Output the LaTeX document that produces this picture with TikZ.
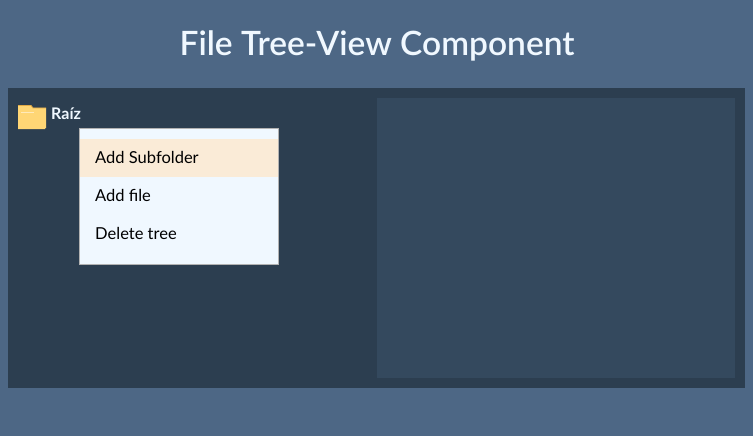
\documentclass[tikz,border=0pt]{standalone}
\usepackage{fontspec}
\setmainfont{Lato}
\newfontfamily\tvtitlefont{Lato Semibold}
\usepackage{xcolor}
\definecolor{tvpage}{RGB}{77,103,133}
\definecolor{tvdark}{RGB}{44,62,80}
\definecolor{tvpanel}{RGB}{52,73,94}
\definecolor{tvmenu}{RGB}{240,248,255}
\definecolor{tvhover}{RGB}{250,235,215}
\definecolor{tvfolder}{RGB}{255,214,117}
\definecolor{tvfolderdark}{RGB}{226,170,70}
\tikzstyle{box} = [rectangle, anchor=north west, inner sep=0pt, outer sep=0pt]
\tikzstyle{item} = [anchor=west, inner sep=0pt, font=\fontsize{16.5}{18}\selectfont, text=black]

\begin{document}
\begin{tikzpicture}[x=1pt,y=-1pt]
\useasboundingbox (0,0) rectangle (753,436);
% Background boxes
\node (page) [box, minimum width=753pt, minimum height=436pt, fill=tvpage] at (0,0) {};
\node (main) [box, minimum width=737pt, minimum height=300pt, fill=tvdark] at (8,88) {};
\node (view) [box, minimum width=358pt, minimum height=280pt, fill=tvpanel] at (377,98) {};
\node (title) [anchor=center, inner sep=0pt, text=tvmenu, font=\fontsize{33.5}{38}\selectfont\tvtitlefont] at (377,46) {File Tree-View Component};

% Folder icon
\fill[tvfolder] (18,105.5) -- (31,105.5) -- (33,108) -- (46,108) -- (46,128) -- (45,128) -- (45,129) -- (18,129) -- cycle;
\draw[tvfolderdark, line width=.8pt] (18,105.5) -- (31,105.5) -- (33,108) -- (46,108);
\draw[white, opacity=.5] (21,112) -- (34,112);
\node (root) [anchor=west, inner sep=0pt, text=tvmenu, font=\fontsize{16}{18}\selectfont\bfseries] at (51,114) {Raíz};

% Context menu
\node (menu) [box, minimum width=199pt, minimum height=136pt, fill=tvmenu, draw=black!30, line width=.6pt] at (79,128) {};
\node (hover) [box, minimum width=198pt, minimum height=38pt, fill=tvhover] at (79.5,139) {};
\node (sub) [item] at (95,157.5) {Add Subfolder};
\node (file) [item] at (95,195.5) {Add file};
\node (del) [item] at (95,233.5) {Delete tree};
\end{tikzpicture}
\end{document}
